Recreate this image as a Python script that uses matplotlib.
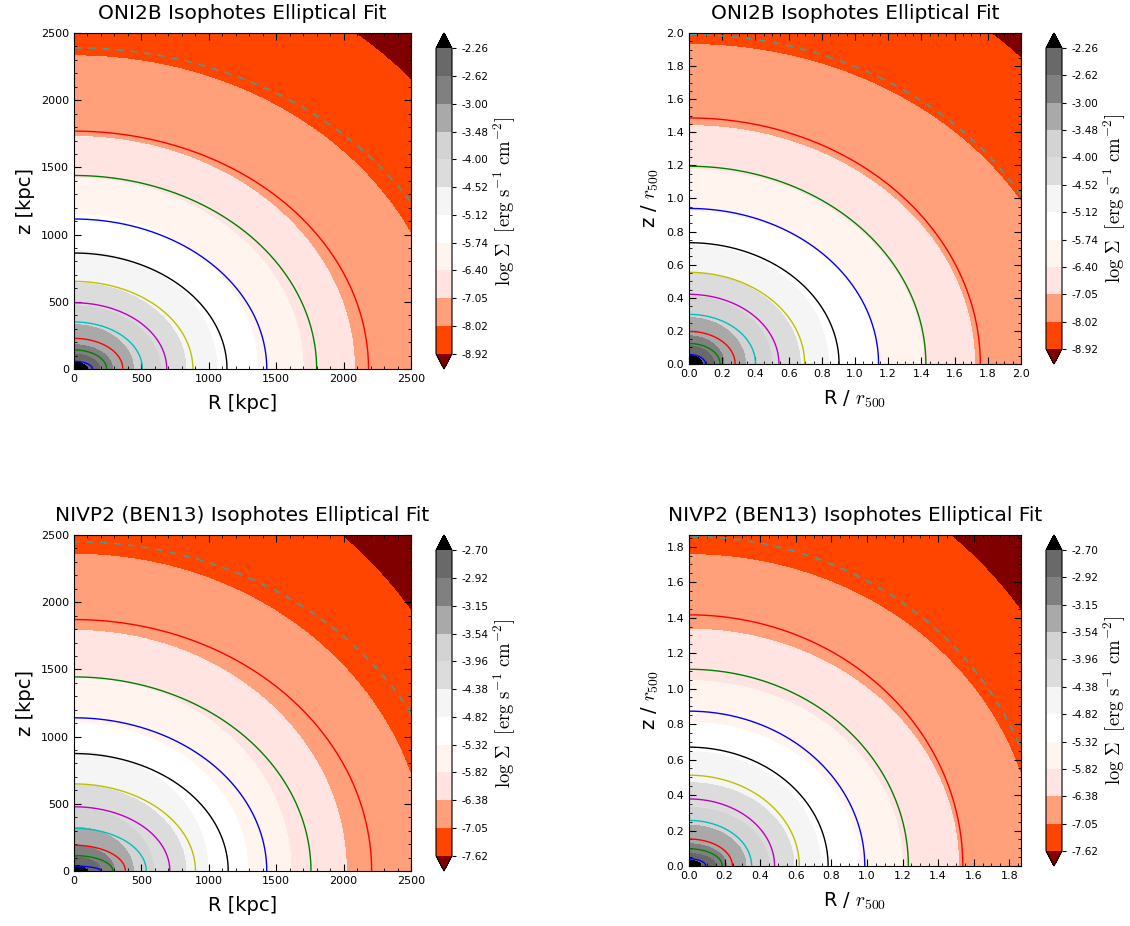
import numpy as np
import matplotlib
matplotlib.use('Agg')
import matplotlib.pyplot as plt
from matplotlib.ticker import MultipleLocator

plt.rcParams['axes.unicode_minus'] = False
plt.rcParams['mathtext.fontset'] = 'cm'
plt.rcParams['font.family'] = 'DejaVu Sans'

# ---------------- data ----------------
levels_oni = [-8.92, -8.02, -7.05, -6.40, -5.74, -5.12, -4.52, -4.00, -3.48, -3.00, -2.62, -2.26]
levels_nivp = [-7.62, -7.05, -6.38, -5.82, -5.32, -4.82, -4.38, -3.96, -3.54, -3.15, -2.92, -2.70]

# band boundaries (inner -> outer, i.e. highest level first): R-intercept, z-intercept
p1_bound_R = [100, 190, 285, 440, 640, 830, 1060, 1360, 1700, 2080, 2770, 3420]
p1_bound_z = [50, 110, 180, 330, 470, 640, 880, 1150, 1420, 1730, 2330, 3150]
p2_bound_R = [0.08, 0.15, 0.21, 0.34, 0.50, 0.67, 0.84, 1.14, 1.41, 1.72, 2.32, 2.84]
p2_bound_z = [0.05, 0.11, 0.17, 0.28, 0.41, 0.55, 0.72, 0.92, 1.175, 1.44, 1.93, 2.60]
p3_bound_R = [95, 200, 300, 440, 590, 830, 995, 1290, 1610, 2020, 2622, 3121]
p3_bound_z = [42, 105, 190, 325, 470, 640, 890, 1100, 1440, 1790, 2356, 3232]
p4_bound_R = [0.066, 0.15, 0.21, 0.32, 0.45, 0.59, 0.74, 0.955, 1.20, 1.515, 1.95, 2.33]
p4_bound_z = [0.032, 0.07, 0.125, 0.23, 0.33, 0.47, 0.645, 0.81, 1.045, 1.335, 1.755, 2.40]

# elliptical fits (semi-axes along R and z)
p1_ell_R = [137, 242, 362, 507, 688, 882, 1135, 1430, 1800, 2185]
p1_ell_z = [57, 142, 228, 350, 493, 652, 863, 1116, 1440, 1770]
p2_ell_R = [0.10, 0.187, 0.278, 0.401, 0.542, 0.697, 0.904, 1.142, 1.427, 1.755]
p2_ell_z = [0.057, 0.124, 0.197, 0.30, 0.421, 0.554, 0.733, 0.94, 1.195, 1.487]
p3_ell_R = [202, 289, 381, 536, 711, 901, 1144, 1430, 1758, 2208]
p3_ell_z = [37, 115, 192, 318, 478, 648, 874, 1140, 1444, 1871]
p4_ell_R = [0.094, 0.187, 0.244, 0.352, 0.481, 0.62, 0.782, 0.988, 1.233, 1.539]
p4_ell_z = [0.041, 0.097, 0.152, 0.257, 0.378, 0.512, 0.670, 0.873, 1.109, 1.416]

# dashed outer ellipse (a, b)
p1_dash = [2924, 2390]
p2_dash = [2.33, 1.99]
p3_dash = [2849, 2450]
p4_dash = [1.996, 1.858]

titles = ['ONI2B Isophotes Elliptical Fit', 'ONI2B Isophotes Elliptical Fit',
          'NIVP2 (BEN13) Isophotes Elliptical Fit', 'NIVP2 (BEN13) Isophotes Elliptical Fit']

band_colors = ['#800000', '#ff4500', '#ffa07a', '#ffe4e1', '#fff5ee', '#ffffff',
               '#f5f5f5', '#dcdcdc', '#d3d3d3', '#a9a9a9', '#808080', '#696969', '#000000']
line_colors = ['b', 'g', 'r', 'c', 'm', 'y', 'k', 'b', 'g', 'r']

W, H = 1130, 926
fig = plt.figure(figsize=(W / 100, H / 100), dpi=100)


def frac(x0, y0, x1, y1):
    return [x0 / W, 1 - y1 / H, (x1 - x0) / W, (y1 - y0) / H]


def make_field(Rg, Zg, bR, bz, lev_desc):
    r = np.hypot(Rg, Zg)
    phi = np.arctan2(Zg, Rg)
    c2 = np.cos(phi) ** 2
    s2 = np.sin(phi) ** 2
    rb = [1 / np.sqrt(c2 / a ** 2 + s2 / b ** 2) for a, b in zip(bR, bz)]
    rr = [np.zeros_like(r)] + rb + [rb[-1] * 2]
    vv = [lev_desc[0] + 0.5] + list(lev_desc) + [lev_desc[-1] - 1.0]
    val = np.full_like(r, vv[-1])
    for k in range(len(rr) - 1):
        m = (r >= rr[k]) & (r < rr[k + 1])
        t = (r[m] - rr[k][m]) / (rr[k + 1][m] - rr[k][m])
        val[m] = vv[k] + (vv[k + 1] - vv[k]) * t
    return val


def panel(rect, crect, lim, bR, bz, levels, eR, ez, dash, title, xlabel, ylabel, major, minor):
    ax = fig.add_axes(rect)
    x = np.linspace(0, lim, 600)
    Rg, Zg = np.meshgrid(x, x)
    val = make_field(Rg, Zg, bR, bz, levels[::-1])
    cf = ax.contourf(Rg, Zg, val, levels=levels, colors=band_colors, extend='both')
    t = np.linspace(0, np.pi / 2, 400)
    for a, b, c in zip(eR, ez, line_colors):
        ax.plot(a * np.cos(t), b * np.sin(t), color=c, lw=1)
    ax.plot(dash[0] * np.cos(t), dash[1] * np.sin(t), color='#2ea8a8', lw=1,
            ls=(0, (5, 5)))
    ax.set_xlim(0, lim)
    ax.set_ylim(0, lim)
    ax.xaxis.set_major_locator(MultipleLocator(major))
    ax.yaxis.set_major_locator(MultipleLocator(major))
    ax.xaxis.set_minor_locator(MultipleLocator(minor))
    ax.yaxis.set_minor_locator(MultipleLocator(minor))
    ax.tick_params(which='both', direction='in', top=True, right=True, labelsize=8)
    ax.tick_params(which='major', length=5)
    ax.tick_params(which='minor', length=2.5)
    if major < 1:
        ax.xaxis.set_major_formatter(plt.FormatStrFormatter('%.1f'))
        ax.yaxis.set_major_formatter(plt.FormatStrFormatter('%.1f'))
    ax.set_title(title, fontsize=14.5, pad=10)
    ax.set_xlabel(xlabel, fontsize=14, labelpad=7)
    ax.set_ylabel(ylabel, fontsize=14, labelpad=4)
    cax = fig.add_axes(crect)
    cb = fig.colorbar(cf, cax=cax, ticks=levels)
    cb.ax.set_yticklabels(['%.2f' % l for l in levels])
    cb.ax.tick_params(labelsize=7.5, length=3)
    cb.set_label(r'$\log\,\Sigma\ \ [\mathrm{erg\ s^{-1}\ cm^{-2}}]$', fontsize=13.5, labelpad=2)
    return ax


panel(frac(74, 33, 411, 369), frac(436, 33, 452, 369), 2500, p1_bound_R, p1_bound_z,
      levels_oni, p1_ell_R, p1_ell_z, p1_dash, titles[0], 'R [kpc]', 'z [kpc]', 500, 100)
panel(frac(689, 33, 1021, 364), frac(1046, 33, 1062, 364), 2.0, p2_bound_R, p2_bound_z,
      levels_oni, p2_ell_R, p2_ell_z, p2_dash, titles[1], r'R / $r_{500}$', r'z / $r_{500}$', 0.2, 0.05)
panel(frac(74, 535, 411, 871), frac(436, 535, 452, 871), 2500, p3_bound_R, p3_bound_z,
      levels_nivp, p3_ell_R, p3_ell_z, p3_dash, titles[2], 'R [kpc]', 'z [kpc]', 500, 100)
panel(frac(689, 535, 1021, 866), frac(1046, 535, 1062, 866), 1.866, p4_bound_R, p4_bound_z,
      levels_nivp, p4_ell_R, p4_ell_z, p4_dash, titles[3], r'R / $r_{500}$', r'z / $r_{500}$', 0.2, 0.05)

fig.savefig('out.png', dpi=100)
